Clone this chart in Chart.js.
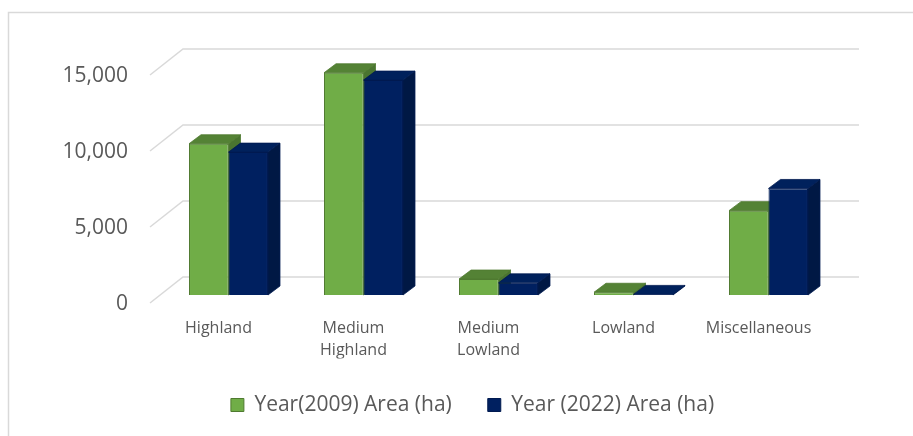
<!DOCTYPE html>
<html>
<head>
<meta charset="utf-8">
<script src="https://cdn.jsdelivr.net/npm/chart.js@4/dist/chart.umd.min.js"></script>
<style>
  html, body { margin: 0; padding: 0; background: #fff; }
  canvas { display: block; }
</style>
</head>
<body>
<canvas id="c" width="913" height="436"></canvas>
<script>
// ---- data ----
const categories = [["Highland"], ["Medium", "Highland"], ["Medium", "Lowland"], ["Lowland"], ["Miscellaneous"]];
const seriesNames = ["Year(2009) Area (ha)", "Year (2022) Area (ha)"];
const year2009 = [9950, 14620, 1050, 180, 5550];
const year2022 = [9400, 14140, 800, 40, 7010];
const yTicks = [0, 5000, 10000, 15000];

// ---- styles ----
const TEXT = '#595959';
const GRID = '#d9d9d9';
const FRONT = ['#70AD47', '#002060'];
const TOP = ['#548235', '#00215c'];
const SIDE = ['#4a7530', '#001844'];
const EDGE = ['#4f7a30', '#001a50'];
const DX = 12, DY = 9;               // bar depth offset
const FLOOR_FX = 11, FLOOR_FY = 8;   // front plane offset from bar plane
const BACK_X = 22, BACK_Y = 18, BACK_R = 23; // back wall offset

function poly(ctx, pts) {
  ctx.beginPath();
  ctx.moveTo(pts[0][0], pts[0][1]);
  for (let i = 1; i < pts.length; i++) ctx.lineTo(pts[i][0], pts[i][1]);
  ctx.closePath();
  ctx.fill();
  ctx.stroke();
}

function drawFaces(chart, di) {
  const ctx = chart.ctx;
  const meta = chart.getDatasetMeta(di);
  ctx.save();
  ctx.lineWidth = 0.8;
  ctx.strokeStyle = EDGE[di];
  meta.data.forEach(bar => {
    const p = bar.getProps(['x', 'y', 'base', 'width'], true);
    const l = p.x - p.width / 2, r = p.x + p.width / 2;
    ctx.fillStyle = SIDE[di];
    poly(ctx, [[r, p.y], [r + DX, p.y - DY], [r + DX, p.base - DY], [r, p.base]]);
    ctx.fillStyle = TOP[di];
    poly(ctx, [[l, p.y], [r, p.y], [r + DX, p.y - DY], [l + DX, p.y - DY]]);
  });
  ctx.restore();
}

const bars3d = {
  id: 'bars3d',
  beforeDraw(chart) {
    const ctx = chart.ctx;
    ctx.save();
    ctx.fillStyle = '#fff';
    ctx.fillRect(0, 0, chart.width, chart.height);
    ctx.strokeStyle = GRID;
    ctx.lineWidth = 1.5;
    ctx.beginPath();
    ctx.moveTo(8.5, chart.height);
    ctx.lineTo(8.5, 12.5);
    ctx.lineTo(chart.width, 12.5);
    ctx.stroke();
    ctx.restore();
  },
  beforeDatasetsDraw(chart) {
    const ctx = chart.ctx;
    const a = chart.chartArea;
    const y = chart.scales.y;
    ctx.save();
    ctx.strokeStyle = GRID;
    ctx.lineWidth = 1.5;
    y.ticks.forEach(t => {
      const py = y.getPixelForValue(t.value);
      ctx.beginPath();
      ctx.moveTo(a.left - FLOOR_FX, py + FLOOR_FY);
      ctx.lineTo(a.left + BACK_X, py - BACK_Y);
      ctx.lineTo(a.right + BACK_R, py - BACK_Y);
      ctx.stroke();
    });
    ctx.restore();
    drawFaces(chart, 0);
  },
  afterDatasetsDraw(chart) {
    drawFaces(chart, 1);
  }
};

new Chart(document.getElementById('c'), {
  type: 'bar',
  data: {
    labels: categories,
    datasets: [
      { label: seriesNames[0], data: year2009, backgroundColor: FRONT[0], borderColor: EDGE[0], borderWidth: 1 },
      { label: seriesNames[1], data: year2022, backgroundColor: FRONT[1], borderColor: EDGE[1], borderWidth: 1 }
    ]
  },
  options: {
    responsive: false,
    devicePixelRatio: 1,
    animation: false,
    locale: 'en-US',
    layout: { padding: { left: 32, right: 0, top: 67, bottom: 10.5 } },
    datasets: { bar: { categoryPercentage: 0.585, barPercentage: 1 } },
    scales: {
      x: {
        grid: { display: false, drawTicks: false },
        border: { display: false },
        ticks: {
          color: TEXT,
          font: { family: 'Open Sans', size: 16, lineHeight: 1.375 },
          padding: 22,
          labelOffset: -10,
          maxRotation: 0,
          autoSkip: false
        },
        afterFit(scale) { scale.height = 63.5; }
      },
      y: {
        min: 0,
        max: 15000,
        afterBuildTicks(scale) { scale.ticks = yTicks.map(v => ({ value: v })); },
        grid: { display: false, drawTicks: false },
        border: { display: false },
        ticks: {
          color: TEXT,
          font: { family: 'Open Sans', size: 21 },
          padding: 33,
          labelOffset: 9
        },
        afterFit(scale) { scale.width = 129; }
      },
      yRight: {
        position: 'right',
        min: 0,
        max: 15000,
        grid: { display: false, drawTicks: false },
        border: { display: false },
        ticks: { display: false },
        afterFit(scale) { scale.width = 77; }
      }
    },
    plugins: {
      tooltip: { enabled: false },
      legend: {
        position: 'bottom',
        labels: {
          color: TEXT,
          font: { family: 'Open Sans', size: 21 },
          boxWidth: 13,
          boxHeight: 13,
          padding: 36
        }
      }
    }
  },
  plugins: [bars3d]
});
</script>
</body>
</html>
